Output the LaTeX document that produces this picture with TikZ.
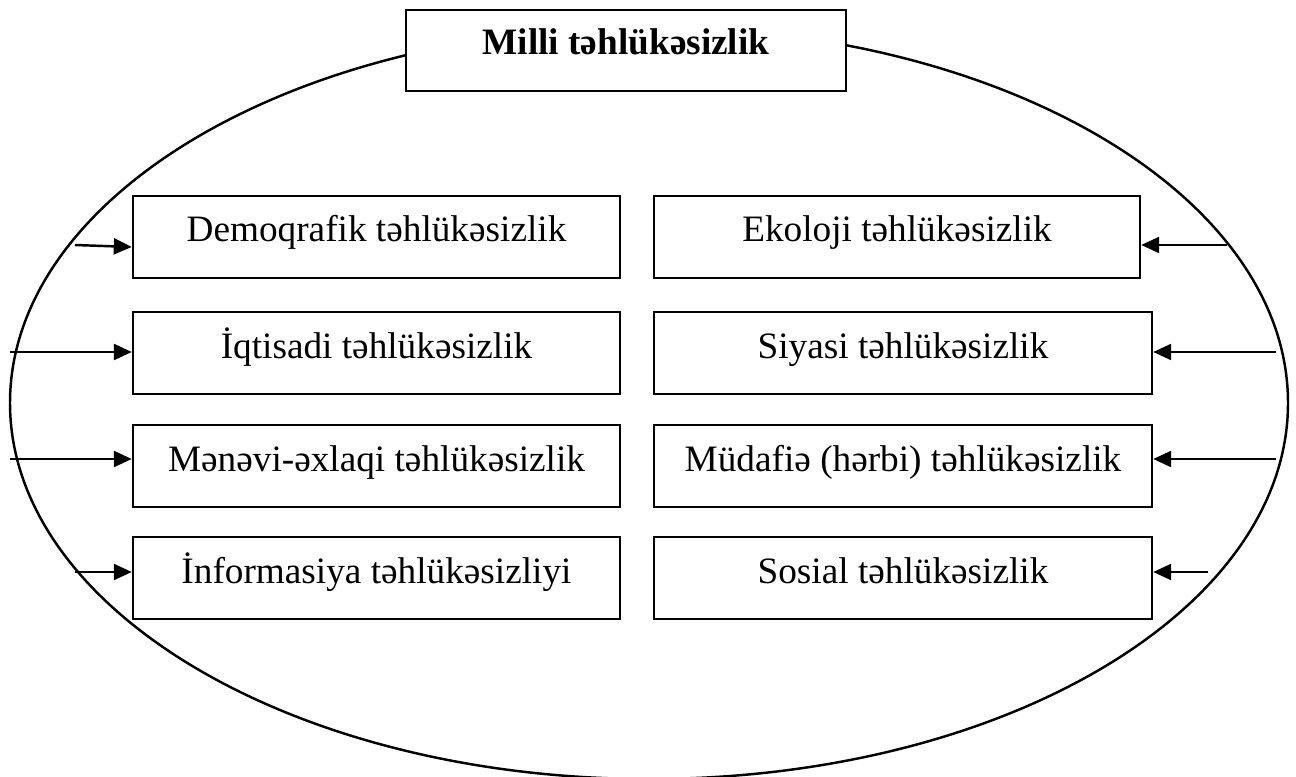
\documentclass[tikz,border=0pt]{standalone}
\usepackage{fontspec}
\setmainfont{Liberation Serif}
\usetikzlibrary{arrows.meta}

\begin{document}
\begin{tikzpicture}[
			font=\fontsize{10.6}{12}\selectfont,
			line width=0.7pt,
			secbox/.style={draw, rectangle, fill=white, inner sep=0pt, text height=0.46cm, text depth=0.36cm},
			inarrow/.style={-{Triangle[length=1.8mm,width=1.6mm]}}
		]
			\useasboundingbox (0,0) rectangle (12.96,7.76);
			\draw (6.49,3.73) ellipse (6.39 and 3.76);
			\node[secbox, minimum width=4.40cm, text height=0.45cm, text depth=0.36cm, font=\fontsize{10.6}{12}\selectfont\bfseries] (milli) at (6.26,7.255) {Milli təhlükəsizlik};
			% sol sutun
			\node[secbox, minimum width=4.87cm] (demo) at (3.765,5.39) {Demoqrafik təhlükəsizlik};
			\node[secbox, minimum width=4.87cm] (iqt) at (3.765,4.23) {İqtisadi təhlükəsizlik};
			\node[secbox, minimum width=4.87cm] (mən) at (3.765,3.10) {Mənəvi-əxlaqi təhlükəsizlik};
			\node[secbox, minimum width=4.87cm] (info) at (3.765,1.98) {İnformasiya təhlükəsizliyi};
			% sag sutun
			\node[secbox, minimum width=4.86cm] (eko) at (8.97,5.39) {Ekoloji təhlükəsizlik};
			\node[secbox, minimum width=4.98cm] (siy) at (9.03,4.23) {Siyasi təhlükəsizlik};
			\node[secbox, minimum width=4.98cm] (mud) at (9.03,3.10) {Müdafiə (hərbi) təhlükəsizlik};
			\node[secbox, minimum width=4.98cm] (sos) at (9.03,1.98) {Sosial təhlükəsizlik};
			% oxlar
			\coordinate (demoin) at (0.75,5.31);
			\coordinate (iqtin) at (0.10,4.24);
			\coordinate (mənin) at (0.10,3.17);
			\coordinate (infoin) at (0.75,2.04);
			\coordinate (ekoin) at (12.27,5.31);
			\coordinate (siyin) at (12.76,4.24);
			\coordinate (mudin) at (12.76,3.17);
			\coordinate (sosin) at (12.08,2.04);
			\draw[inarrow] (demoin) -- ([yshift=-0.02cm]demoin -| demo.west);
			\draw[inarrow] (iqtin) -- (iqtin -| iqt.west);
			\draw[inarrow] (mənin) -- (mənin -| mən.west);
			\draw[inarrow] (infoin) -- (infoin -| info.west);
			\draw[inarrow] (ekoin) -- (ekoin -| eko.east);
			\draw[inarrow] (siyin) -- (siyin -| siy.east);
			\draw[inarrow] (mudin) -- (mudin -| mud.east);
			\draw[inarrow] (sosin) -- (sosin -| sos.east);
		\end{tikzpicture}
\end{document}
